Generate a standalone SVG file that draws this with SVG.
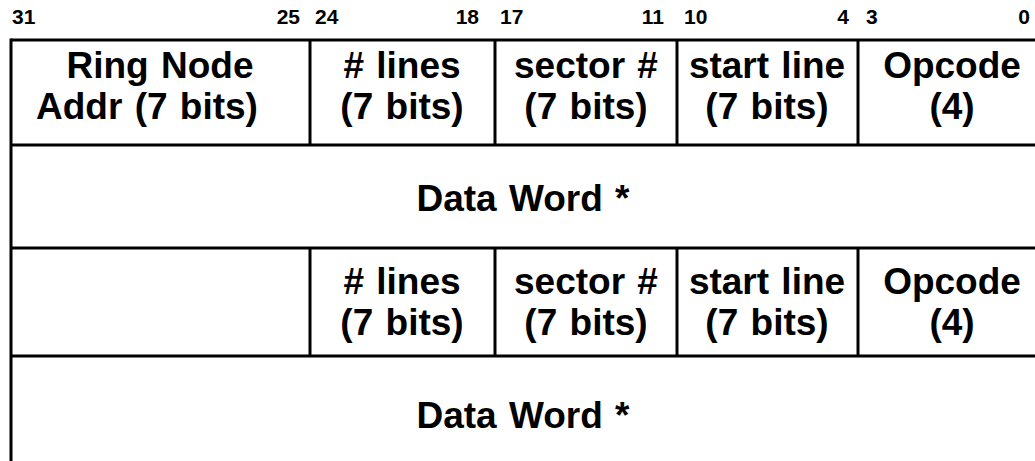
<svg xmlns="http://www.w3.org/2000/svg" width="1035" height="461" viewBox="0 0 1035 461">
  <style>
    .rule { stroke: #000; stroke-width: 3; fill: none; }
    .bit { font-family: "Liberation Sans", Arial, sans-serif; font-weight: bold; font-size: 21px; fill: #000; }
    .lbl { font-family: "Liberation Sans", Arial, sans-serif; font-weight: bold; font-size: 37px; word-spacing: 2px; fill: #000; text-anchor: middle; }
  </style>
  <rect width="1035" height="461" fill="#fff"/>

  <!-- bit positions -->
  <g id="bits">
    <text class="bit" x="12" y="24">31</text>
    <text class="bit" x="300" y="24" text-anchor="end">25</text>
    <text class="bit" x="315" y="24">24</text>
    <text class="bit" x="479" y="24" text-anchor="end">18</text>
    <text class="bit" x="500" y="24">17</text>
    <text class="bit" x="664" y="24" text-anchor="end">11</text>
    <text class="bit" x="684" y="24">10</text>
    <text class="bit" x="849" y="24" text-anchor="end">4</text>
    <text class="bit" x="866" y="24">3</text>
    <text class="bit" x="1030" y="24" text-anchor="end">0</text>
  </g>

  <!-- frame and field dividers -->
  <g id="grid">
    <line class="rule" x1="11" y1="40" x2="1035" y2="40"/>
    <line class="rule" x1="11" y1="145" x2="1035" y2="145"/>
    <line class="rule" x1="11" y1="248" x2="1035" y2="248"/>
    <line class="rule" x1="11" y1="356" x2="1035" y2="356"/>
    <line class="rule" x1="11" y1="38.5" x2="11" y2="461"/>
    <line class="rule" x1="310" y1="40" x2="310" y2="145"/>
    <line class="rule" x1="495" y1="40" x2="495" y2="145"/>
    <line class="rule" x1="677" y1="40" x2="677" y2="145"/>
    <line class="rule" x1="858" y1="40" x2="858" y2="145"/>
    <line class="rule" x1="310" y1="248" x2="310" y2="356"/>
    <line class="rule" x1="495" y1="248" x2="495" y2="356"/>
    <line class="rule" x1="677" y1="248" x2="677" y2="356"/>
    <line class="rule" x1="858" y1="248" x2="858" y2="356"/>
  </g>

  <!-- word 1: header -->
  <g id="ring-node-addr">
    <text class="lbl" x="160" y="78">Ring Node</text>
    <text class="lbl" x="147" y="119">Addr (7 bits)</text>
  </g>
  <g id="lines-1">
    <text class="lbl" x="402" y="78"># lines</text>
    <text class="lbl" x="402" y="119">(7 bits)</text>
  </g>
  <g id="sector-1">
    <text class="lbl" x="586" y="78">sector #</text>
    <text class="lbl" x="586" y="119">(7 bits)</text>
  </g>
  <g id="start-line-1">
    <text class="lbl" x="767" y="78">start line</text>
    <text class="lbl" x="767" y="119">(7 bits)</text>
  </g>
  <g id="opcode-1">
    <text class="lbl" x="952" y="78">Opcode</text>
    <text class="lbl" x="952" y="119">(4)</text>
  </g>

  <!-- word 2: data -->
  <g id="data-word-1">
    <text class="lbl" x="523" y="211">Data Word *</text>
  </g>

  <!-- word 3: header without ring node address -->
  <g id="lines-2">
    <text class="lbl" x="402" y="294"># lines</text>
    <text class="lbl" x="402" y="335">(7 bits)</text>
  </g>
  <g id="sector-2">
    <text class="lbl" x="586" y="294">sector #</text>
    <text class="lbl" x="586" y="335">(7 bits)</text>
  </g>
  <g id="start-line-2">
    <text class="lbl" x="767" y="294">start line</text>
    <text class="lbl" x="767" y="335">(7 bits)</text>
  </g>
  <g id="opcode-2">
    <text class="lbl" x="952" y="294">Opcode</text>
    <text class="lbl" x="952" y="335">(4)</text>
  </g>

  <!-- word 4: data -->
  <g id="data-word-2">
    <text class="lbl" x="523" y="428">Data Word *</text>
  </g>
</svg>
